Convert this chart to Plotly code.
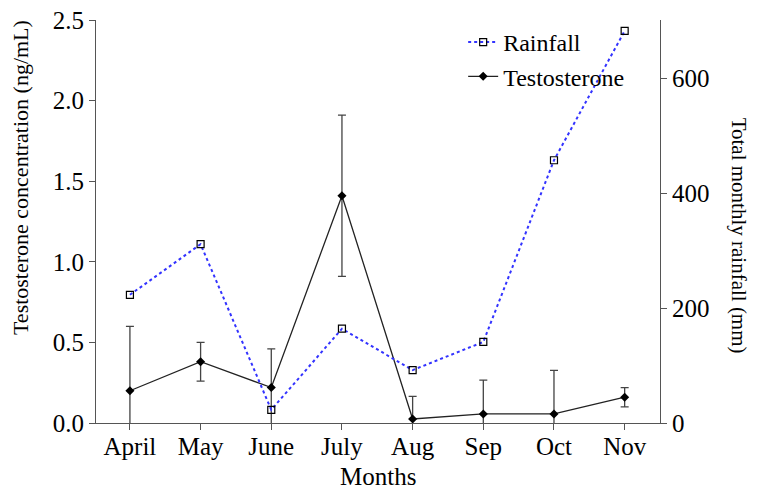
# Testosterone vs rainfall chart
import plotly.graph_objects as go

# ----------------------------------------------------------------------------------------------------------------------
# Data
# ----------------------------------------------------------------------------------------------------------------------
months = ["April", "May", "June", "July", "Aug", "Sep", "Oct", "Nov"]
testosterone = [0.20, 0.38, 0.22, 1.41, 0.025, 0.056, 0.056, 0.16]
testosterone_err = [0.40, 0.12, 0.24, 0.50, 0.14, 0.21, 0.27, 0.06]
rainfall = [223, 311, 23, 164, 92, 141, 457, 682]

FONT = "Liberation Serif"
AXIS_COLOR = "#555555"

# ----------------------------------------------------------------------------------------------------------------------
# Figure
# ----------------------------------------------------------------------------------------------------------------------
fig = go.Figure()

fig.add_trace(go.Scatter(
    x=list(range(len(months))), y=rainfall, name="Rainfall", yaxis="y2",
    mode="lines+markers",
    line=dict(color="#3333ff", width=2, dash="dot"),
    marker=dict(symbol="square-open", size=7, color="black", line=dict(width=1.2)),
))

fig.add_trace(go.Scatter(
    x=list(range(len(months))), y=testosterone, name="Testosterone",
    mode="lines+markers",
    line=dict(color="#222222", width=1.3),
    marker=dict(symbol="diamond", size=7, color="black"),
    error_y=dict(type="data", array=testosterone_err, visible=True,
                 color="#444444", thickness=1.3, width=4),
))

axis_style = dict(showline=True, linecolor=AXIS_COLOR, linewidth=1.2, ticks="outside", ticklen=6,
                  tickcolor=AXIS_COLOR, showgrid=False, zeroline=False, automargin=False,
                  ticklabeloverflow="allow",
                  tickfont=dict(family=FONT, size=25, color="black"))

# page body adds an 8px offset, so the figure is 8px smaller and margins shifted
fig.update_layout(
    width=751, height=482,
    margin=dict(l=88, r=99, t=12, b=67),
    plot_bgcolor="white", paper_bgcolor="white",
    font=dict(family=FONT, size=21, color="black"),
    showlegend=True,
    legend=dict(x=0.651, y=1.0, xanchor="left", yanchor="top",
                bgcolor="rgba(0,0,0,0)", font=dict(family=FONT, size=24, color="black"),
                itemwidth=30, tracegroupgap=0),
    xaxis=dict(tickmode="array", tickvals=list(range(len(months))), ticktext=months,
               range=[-0.48, 7.5], ticklabelstandoff=-5, **axis_style),
    yaxis=dict(range=[0, 2.5], tickvals=[0, 0.5, 1.0, 1.5, 2.0, 2.5], tickformat=".1f", **axis_style),
    yaxis2=dict(range=[0, 701], tickvals=[0, 200, 400, 600], overlaying="y", side="right", **axis_style),
)

# Axis titles as annotations (right title reads top to bottom)
fig.add_annotation(text="Months", xref="paper", yref="paper", x=0.5, y=-0.17,
                   xanchor="center", yanchor="bottom", showarrow=False, font=dict(family=FONT, size=25))
fig.add_annotation(text="Testosterone concentration (ng/mL)", xref="paper", yref="paper",
                   x=-0.135, y=0.61, xanchor="center", yanchor="middle", textangle=-90,
                   showarrow=False, font=dict(family=FONT, size=22))
fig.add_annotation(text="Total monthly rainfall (mm)", xref="paper", yref="paper",
                   x=1.14, y=0.465, xanchor="center", yanchor="middle", textangle=90,
                   showarrow=False, font=dict(family=FONT, size=21))

fig.write_html("out.html")
